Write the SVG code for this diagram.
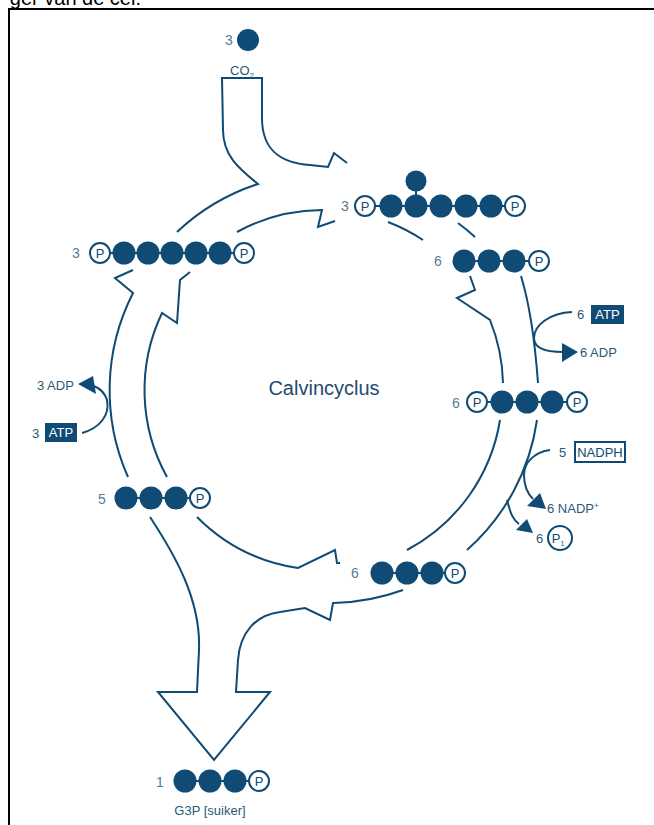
<svg xmlns="http://www.w3.org/2000/svg" width="654" height="825" viewBox="0 0 654 825">
<style>
.ln{fill:none;stroke:#0f4b74;stroke-width:2;stroke-linejoin:miter}
.dot{fill:#0f4b74}
.bond{stroke:#0f4b74;stroke-width:2}
.p{fill:#fff;stroke:#0f4b74;stroke-width:2}
.pt{font-family:"Liberation Sans",Arial,sans-serif;font-size:13px;fill:#0f4b74;text-anchor:middle}
.num{font-family:"Liberation Sans",Arial,sans-serif;font-size:14px;fill:#5b7a90;text-anchor:middle}
.lbl{font-family:"Liberation Sans",Arial,sans-serif;font-size:13px;fill:#2b5877}
.box{fill:#0f4b74}
.wt{font-family:"Liberation Sans",Arial,sans-serif;font-size:13px;fill:#fff;text-anchor:middle}
.ah{fill:#0f4b74}
</style>
<rect width="654" height="825" fill="#fff"/>
<text x="141" y="5" font-family="Liberation Sans,Arial,sans-serif" font-size="20" fill="#000" text-anchor="end">ger van de cel.</text>
<g id="frame">
<line x1="8" y1="9" x2="654" y2="9" stroke="#000" stroke-width="2"/>
<line x1="9" y1="8" x2="9" y2="825" stroke="#000" stroke-width="2"/>
</g>
<g id="connectors">
<path class="ln" d="M177,232 A215,215 0 0 1 258,184 C238,168 223,155 223,130 L222,78 L262,78 L262,118 C262,150 280,163 310,165 L328,167 L334,153 L347,163"/>
<path class="ln" d="M237,232 A179,179 0 0 1 322,210 L318,227 L335,221"/>
<path class="ln" d="M388,222 A179,179 0 0 1 423,240"/>
<path class="ln" d="M458,223 A214,214 0 0 1 475,237"/>
<path class="ln" d="M470,276 L475,290 L457,298 L490,320 A179,179 0 0 1 503,383"/>
<path class="ln" d="M521,276 Q533,315 538,383"/>
<path class="ln" d="M500,420 A179,179 0 0 1 407,550"/>
<path class="ln" d="M537,420 A214,214 0 0 1 467,550"/>
<path class="ln" d="M340,563 L337,563 L335,550 L298,568 A179,179 0 0 1 197,517"/>
<path class="ln" d="M403,590 A214,214 0 0 1 333,603 L330,620 L305,608 L280,612 C256,615 240,632 238,660 L236,692 L270,692 L214,760 L158,692 L197,692 L199,650 C201,600 175,555 150,517"/>
<path class="ln" d="M128,477 A214,214 0 0 1 133,293 L115,278 L133,270"/>
<path class="ln" d="M167,477 A179,179 0 0 1 162,313 L177,323 L180,280 L190,272"/>
<path class="ln" d="M82,433 C100,428 110,415 107,400 C105,393 101,389 94,386"/>
<polygon class="ah" points="78,384 93,376 96,394"/>
<path class="ln" d="M572,312 C550,313 534,325 534,338 C534,348 545,352 563,352"/>
<polygon class="ah" points="578,352 562,343 562,362"/>
<path class="ln" d="M550,450 C535,452 524,462 524,475 C524,487 528,494 533,499"/>
<polygon class="ah" points="546,509 527,506 540,493"/>
<path class="ln" d="M507,500 C510,510 511,518 519,524"/>
<polygon class="ah" points="533,533 516,530 527,519"/>
</g>
<g id="co2">
<text class="num" x="229" y="45">3</text>
<circle class="dot" cx="248" cy="40" r="11"/>
<text class="lbl" x="230" y="75">CO<tspan font-size="8" dy="3">2</tspan></text>
</g>
<g id="mol-top">
<text class="num" x="345" y="211">3</text>
<line class="bond" x1="365" y1="206" x2="515" y2="206"/>
<line class="bond" x1="416" y1="181" x2="416" y2="206"/>
<circle class="dot" cx="416" cy="181" r="10.5"/>
<circle class="p" cx="365" cy="206" r="10"/><text class="pt" x="365" y="211">P</text>
<circle class="dot" cx="391" cy="206" r="11.5"/>
<circle class="dot" cx="416" cy="206" r="11.5"/>
<circle class="dot" cx="441" cy="206" r="11.5"/>
<circle class="dot" cx="466" cy="206" r="11.5"/>
<circle class="dot" cx="491" cy="206" r="11.5"/>
<circle class="p" cx="515" cy="206" r="10"/><text class="pt" x="515" y="211">P</text>
</g>
<g id="mol-right-top">
<text class="num" x="438" y="266">6</text>
<line class="bond" x1="464" y1="261" x2="539" y2="261"/>
<circle class="dot" cx="464" cy="261" r="11.5"/>
<circle class="dot" cx="489" cy="261" r="11.5"/>
<circle class="dot" cx="514" cy="261" r="11.5"/>
<circle class="p" cx="539" cy="261" r="10"/><text class="pt" x="539" y="266">P</text>
</g>
<g id="atp-right">
<text class="lbl" x="577" y="319">6</text>
<rect class="box" x="591" y="305" width="33" height="19"/>
<text class="wt" x="607.5" y="319">ATP</text>
<text class="lbl" x="580" y="357">6 ADP</text>
</g>
<g id="mol-right-mid">
<text class="num" x="456" y="408">6</text>
<line class="bond" x1="477" y1="402" x2="577" y2="402"/>
<circle class="p" cx="477" cy="402" r="10"/><text class="pt" x="477" y="407">P</text>
<circle class="dot" cx="502" cy="402" r="11.5"/>
<circle class="dot" cx="527" cy="402" r="11.5"/>
<circle class="dot" cx="552" cy="402" r="11.5"/>
<circle class="p" cx="577" cy="402" r="10"/><text class="pt" x="577" y="407">P</text>
</g>
<g id="nadph">
<text class="lbl" x="559" y="457">5</text>
<rect x="575" y="442" width="50" height="20" fill="#fff" stroke="#0f4b74" stroke-width="2"/>
<text class="pt" x="600" y="457">NADPH</text>
<text class="lbl" x="547" y="513">6 NADP<tspan font-size="8" dy="-5">+</tspan></text>
</g>
<g id="pi">
<text class="lbl" x="536" y="543">6</text>
<circle class="p" cx="560" cy="538" r="12"/>
<text class="pt" x="558" y="543">P<tspan font-size="7" dy="3">1</tspan></text>
</g>
<g id="mol-bottom">
<text class="num" x="355" y="578">6</text>
<line class="bond" x1="382" y1="573" x2="455" y2="573"/>
<circle class="dot" cx="382" cy="573" r="11.5"/>
<circle class="dot" cx="407" cy="573" r="11.5"/>
<circle class="dot" cx="432" cy="573" r="11.5"/>
<circle class="p" cx="455" cy="573" r="10"/><text class="pt" x="455" y="578">P</text>
</g>
<g id="mol-left-bottom">
<text class="num" x="102" y="504">5</text>
<line class="bond" x1="125" y1="498" x2="200" y2="498"/>
<circle class="dot" cx="126" cy="498" r="11.5"/>
<circle class="dot" cx="151" cy="498" r="11.5"/>
<circle class="dot" cx="176" cy="498" r="11.5"/>
<circle class="p" cx="200" cy="498" r="10"/><text class="pt" x="200" y="503">P</text>
</g>
<g id="atp-left">
<text class="lbl" x="37" y="390">3 ADP</text>
<text class="lbl" x="32" y="438">3</text>
<rect class="box" x="45" y="423" width="32" height="19"/>
<text class="wt" x="61" y="437">ATP</text>
</g>
<g id="mol-left-top">
<text class="num" x="76" y="258">3</text>
<line class="bond" x1="100" y1="253" x2="244" y2="253"/>
<circle class="p" cx="100" cy="253" r="10"/><text class="pt" x="100" y="258">P</text>
<circle class="dot" cx="124" cy="253" r="11.5"/>
<circle class="dot" cx="148" cy="253" r="11.5"/>
<circle class="dot" cx="172" cy="253" r="11.5"/>
<circle class="dot" cx="196" cy="253" r="11.5"/>
<circle class="dot" cx="220" cy="253" r="11.5"/>
<circle class="p" cx="244" cy="253" r="10"/><text class="pt" x="244" y="258">P</text>
</g>
<g id="title">
<text x="324" y="395" font-family="Liberation Sans,Arial,sans-serif" font-size="20" fill="#1e4c6e" text-anchor="middle">Calvincyclus</text>
</g>
<g id="g3p">
<text class="num" x="160" y="787">1</text>
<line class="bond" x1="185" y1="781" x2="259" y2="781"/>
<circle class="dot" cx="185" cy="781" r="11.5"/>
<circle class="dot" cx="210" cy="781" r="11.5"/>
<circle class="dot" cx="235" cy="781" r="11.5"/>
<circle class="p" cx="259" cy="781" r="10"/><text class="pt" x="259" y="786">P</text>
<text class="lbl" x="210" y="815" text-anchor="middle">G3P [suiker]</text>
</g>
</svg>
